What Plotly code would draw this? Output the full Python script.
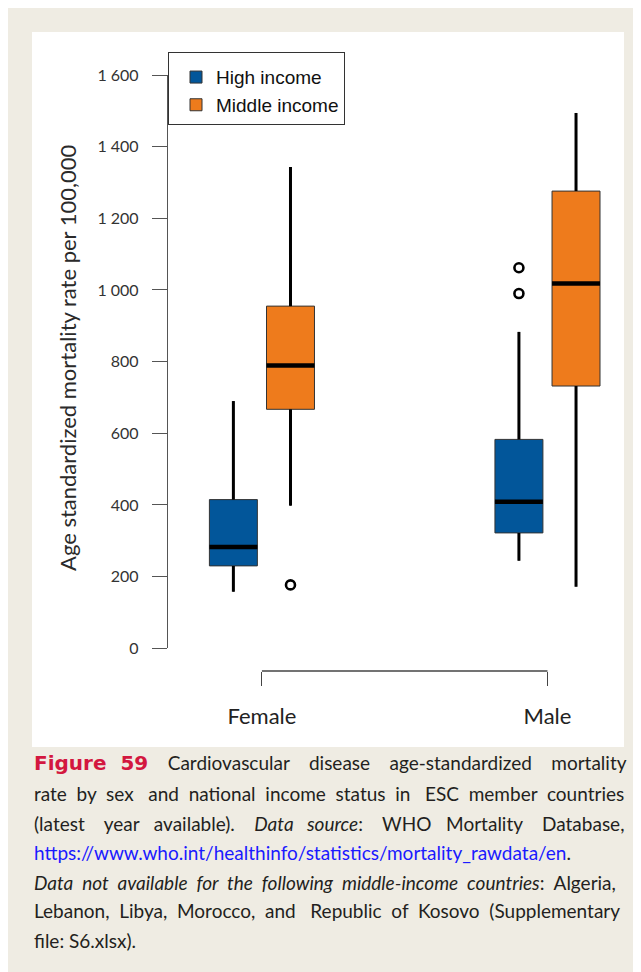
import plotly.graph_objects as go

# ---------------- data ----------------
categories = ["Female", "Male"]
groups = ["High income", "Middle income"]
group_colors = ["#02569a", "#ee7b1c"]

high_lower = [158, 244]
high_q1 = [230, 322]
high_median = [283, 409]
high_q3 = [415, 583]
high_upper = [690, 883]
high_outliers = [[], [990, 1062]]

mid_lower = [398, 172]
mid_q1 = [667, 732]
mid_median = [789, 1018]
mid_q3 = [955, 1276]
mid_upper = [1343, 1494]
mid_outliers = [[177], []]

y_tickvals = [0, 200, 400, 600, 800, 1000, 1200, 1400, 1600]
y_ticktext = ["0", "200", "400", "600", "800", "1 000", "1 200", "1 400", "1 600"]

y_title = "Age standardized mortality rate per 100,000"
caption_lines = [
    "<span style='color:#d3173f;font-family:DejaVu Sans;font-size:20px'><b>Figure\u00a0\u00a059</b></span> Cardiovascular disease age-standardized mortality",
    "rate by sex and national income status in ESC member countries",
    "(latest year available). <i>Data source</i>: WHO Mortality Database,",
    "<span style='color:#1a1aff'>https://www.who.int/healthinfo/statistics/mortality_rawdata/en</span>.",
    "<i>Data not available for the following middle-income countries</i>: Algeria,",
    "Lebanon, Libya, Morocco, and Republic of Kosovo (Supplementary",
    "file: S6.xlsx).",
]
# extra non-breaking spaces per caption line, spread over word gaps (justification)
caption_extra_spaces = [12, 12, 18, 0, 8, 8, 0]

# ---------------- layout constants ----------------
PAGE_OFF = 8                           # browser body margin
W, H = 641 - PAGE_OFF, 972 - PAGE_OFF
PL, PR, PT, PB = 168, 620, 75, 671      # plot-area box in page pixels
Y0_PX = 648.3                           # page pixel row of value 0
BOX_W = 0.168
OFFSETS = [-0.1, 0.1]
BEIGE = "#efece3"


def px_x(p):
    return (p - PL) / (PR - PL)


def px_y(p):
    return (PB - p) / (PB - PT)


def justify(text, n_extra):
    # find spaces outside of markup tags
    gaps = []
    inside = False
    for i, ch in enumerate(text):
        if ch == "<":
            inside = True
        elif ch == ">":
            inside = False
        elif ch == " " and not inside:
            gaps.append(i)
    if not gaps or n_extra <= 0:
        return text
    n = len(gaps)
    # spread the extra spaces as evenly as possible across the gaps
    counts = [round((k + 1) * n_extra / n) - round(k * n_extra / n) for k in range(n)]
    out, last = [], 0
    for gi, c in zip(gaps, counts):
        out.append(text[last:gi])
        out.append(" " + "\u00a0" * c)
        last = gi + 1
    out.append(text[last:])
    return "".join(out)


positions = list(range(len(categories)))

fig = go.Figure()

series = [
    (high_lower, high_q1, high_median, high_q3, high_upper, high_outliers),
    (mid_lower, mid_q1, mid_median, mid_q3, mid_upper, mid_outliers),
]

# boxes
for g, (lo, q1, med, q3, up, outs) in enumerate(series):
    xs = [p + OFFSETS[g] for p in positions]
    fig.add_trace(go.Box(
        x=xs, lowerfence=lo, q1=q1, median=med, q3=q3, upperfence=up,
        width=BOX_W, fillcolor=group_colors[g],
        line=dict(color="#333333", width=1), whiskerwidth=0,
        boxpoints=False, name=groups[g], hoverinfo="skip",
    ))

# whiskers, medians, outliers
for g, (lo, q1, med, q3, up, outs) in enumerate(series):
    xs = [p + OFFSETS[g] for p in positions]
    wx, wy, mx, my, ox, oy = [], [], [], [], [], []
    for i, x in enumerate(xs):
        wx += [x, x, None, x, x, None]
        wy += [lo[i], q1[i], None, q3[i], up[i], None]
        mx += [x - BOX_W / 2, x + BOX_W / 2, None]
        my += [med[i], med[i], None]
        for v in outs[i]:
            ox.append(x)
            oy.append(v)
    fig.add_trace(go.Scatter(x=wx, y=wy, mode="lines", line=dict(color="black", width=3),
                             showlegend=False, hoverinfo="skip"))
    fig.add_trace(go.Scatter(x=mx, y=my, mode="lines", line=dict(color="black", width=4.5),
                             showlegend=False, hoverinfo="skip"))
    if ox:
        fig.add_trace(go.Scatter(x=ox, y=oy, mode="markers",
                                 marker=dict(symbol="circle-open", size=9, color="black",
                                             line=dict(width=2.6, color="black")),
                                 showlegend=False, hoverinfo="skip"))

shapes = [
    # beige page background and white chart panel
    dict(type="rect", xref="paper", yref="paper", layer="below",
         x0=px_x(PAGE_OFF), x1=px_x(641), y0=px_y(972), y1=px_y(PAGE_OFF),
         fillcolor=BEIGE, line=dict(width=0)),
    dict(type="rect", xref="paper", yref="paper", layer="below",
         x0=px_x(32), x1=px_x(624), y0=px_y(747), y1=px_y(32),
         fillcolor="white", line=dict(width=0)),
    # R-style x axis bracket between first and last category
    dict(type="line", xref="x", yref="paper",
         x0=positions[0], x1=positions[-1], y0=0, y1=0,
         line=dict(color="#444444", width=1.3)),
]

annotations = [
    dict(text=y_title, textangle=-90, xref="paper", yref="paper",
         x=px_x(67), y=px_y(358), xanchor="center", yanchor="middle",
         showarrow=False, font=dict(family="Lato", size=22, color="#2a2a2a")),
]
line_y = [763, 793, 823, 852, 882, 910, 940]
for t, n, yy in zip(caption_lines, caption_extra_spaces, line_y):
    annotations.append(dict(text=justify(t, n), xref="paper", yref="paper",
                            x=px_x(32), y=px_y(yy),
                            xanchor="left", yanchor="middle", showarrow=False, align="left",
                            font=dict(family="Lato", size=19, color="#231f20")))

fig.update_layout(
    width=W, height=H,
    margin=dict(l=PL - PAGE_OFF, r=W - (PR - PAGE_OFF), t=PT - PAGE_OFF,
                b=H - (PB - PAGE_OFF), pad=0, autoexpand=False),
    paper_bgcolor="white", plot_bgcolor="white",
    boxmode="overlay",
    font=dict(family="Lato", color="#333333"),
    showlegend=True,
    legend=dict(x=0, xanchor="left", y=px_y(52), yanchor="top",
                bgcolor="white", bordercolor="#333333", borderwidth=1,
                font=dict(family="Liberation Sans", size=19, color="#111111"),
                title=dict(text="\u00a0", font=dict(size=4)),
                indentation=7, tracegroupgap=0, itemclick=False, itemdoubleclick=False),
    xaxis=dict(range=[-0.329, 1.254], tickvals=positions, ticktext=categories,
               ticks="outside", ticklen=14, tickwidth=1.3, tickcolor="#444444",
               showline=False, showgrid=False, zeroline=False,
               anchor="free", position=0, ticklabelstandoff=12,
               tickfont=dict(family="Lato", size=22, color="#222222")),
    yaxis=dict(domain=[px_y(Y0_PX), 1], range=[0, 1600],
               tickvals=y_tickvals, ticktext=y_ticktext,
               ticks="outside", ticklen=15, tickwidth=1.3, tickcolor="#555555",
               showline=True, linecolor="#555555", linewidth=1.3,
               showgrid=False, zeroline=False, ticklabelstandoff=10,
               tickfont=dict(family="Lato", size=16, color="#333333")),
    shapes=shapes,
    annotations=annotations,
)

fig.write_html("out.html")
